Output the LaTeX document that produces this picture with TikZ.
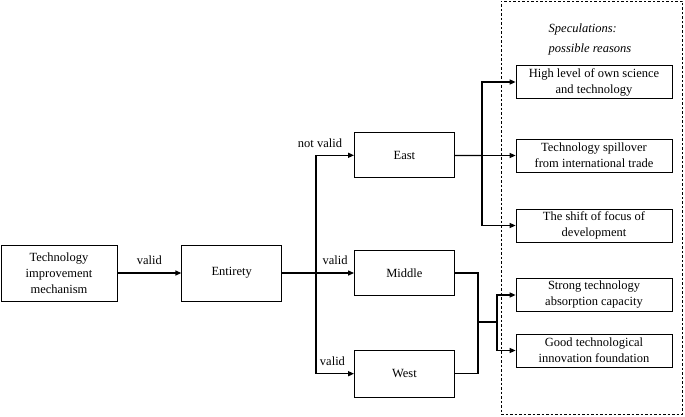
\documentclass[tikz,border=0pt]{standalone}
\usepackage{fontspec}
\setmainfont{Liberation Serif}
\usetikzlibrary{arrows.meta, positioning}

\begin{document}
\begin{tikzpicture} [
						x=1pt, y=1pt,
						font=\fontsize{12.5}{16}\selectfont,
						box/.style={draw, line width=0.7pt, align=center, inner sep=0pt},
						region/.style={box, minimum width=100pt, minimum height=45pt},
						reason/.style={box, minimum width=156pt, minimum height=33pt},
						wire/.style={line width=1.3pt},
						link/.style={wire, -{Triangle[length=6pt,width=5pt]}},
						elbow/.style={to path={|- (\tikztotarget) \tikztonodes}},
						cond/.style={above, yshift=4pt}
					]

\useasboundingbox (0,0) rectangle (685,416);

% dashed frame round the reasons
\node (frame) [draw, dash pattern=on 2.5pt off 2pt, line width=0.7pt, minimum width=181pt, minimum height=413pt] at (591.5,208.5) {};
\node (title) [font=\fontsize{12.5}{20}\selectfont\itshape, align=left] at (590,377) {Speculations:\\possible reasons};

\node (tim) [box, minimum width=116pt, minimum height=56pt] at (59,143) {Technology\\improvement\\mechanism};
\node (entirety) [box, minimum width=100pt, minimum height=56pt, right=64pt of tim] {Entirety};
\node (middle) [region, right=72pt of entirety] {Middle};
\node (east) [region, above=72pt of middle] {East};
\node (west) [region, minimum height=47pt, below=54pt of middle] {West};

\node (r1) [reason] at (594,334) {High level of own science\\and technology};
\node (r2) [reason] at (594,260.5) {Technology spillover\\from international trade};
\node (r3) [reason] at (594,190.5) {The shift of focus of\\development};
\node (r4) [reason] at (594,121) {Strong technology\\absorption capacity};
\node (r5) [reason] at (594,65.5) {Good technological\\innovation foundation};

\coordinate (split) at (316,143);
\coordinate (eastsplit) at (482,260.5);
\coordinate (midjoin) at (478,94);
\coordinate (lowsplit) at (497,94);

\draw[wire] (entirety) -- (split);
\draw[wire] (east) -- (eastsplit);
\draw[wire] (middle.east) -| (midjoin);
\draw[wire] (west.east) -| (midjoin) -- (lowsplit);

\path[link]
	(tim)       edge node[cond] {valid} (entirety)
	(split)     edge[elbow] node[cond, xshift=4pt] {not valid} (east)
	(split)     edge node[cond] {valid} (middle)
	(split)     edge[elbow] node[cond, above right] {valid} (west)
	(eastsplit) edge[elbow] (r1)
	(eastsplit) edge (r2)
	(eastsplit) edge[elbow] (r3)
	(lowsplit)  edge[elbow] (r4)
	(lowsplit)  edge[elbow] (r5);
\end{tikzpicture}
\end{document}
